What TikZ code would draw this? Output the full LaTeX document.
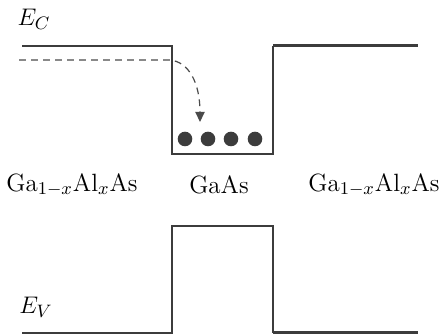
\documentclass[tikz,border=0pt]{standalone}
\usepackage{amsmath}
\usetikzlibrary{arrows.meta,positioning}
\definecolor{ink}{HTML}{3C3C3C}
\definecolor{trail}{HTML}{4A4A4A}
\tikzset{bandedge/.style={draw=ink,line width=1pt},bandthick/.style={draw=ink,line width=1.5pt},
hotpath/.style={draw=trail,line width=.6pt,dash pattern=on 3.4pt off 2.6pt,-{Triangle[length=5pt,width=4.6pt]}},
carrier/.style={fill=ink},
matlabel/.style={font=\fontsize{12.5}{15}\selectfont,inner sep=1pt},
levlabel/.style={font=\fontsize{12.5}{15}\selectfont,inner sep=1pt}}

\begin{document}
\begin{tikzpicture}[x=.5pt,y=.5pt]
\useasboundingbox (0,0) rectangle (440,335);
% conduction band
\draw[bandedge] (22,289)--(172,289)--(172,181)--(273,181)--(273,289);
\draw[bandthick] (273,289)--(418,289);
\node[levlabel] (ec) at (34,316) {$E_C$};
% hot electron falling into the well
\coordinate (hot) at (19,275);\coordinate (edge) at (170,275);\coordinate (land) at (200,213);
\draw[hotpath] (hot)--(edge) .. controls (189,273) and (200,252) .. (land);
\foreach \cx in {185,208,231,255}
  \fill[carrier] (\cx,196) circle (7.3);
% materials
\node[matlabel] (barL) at (72,150) {Ga$_{1-x}$Al$_x$As};
\node[matlabel] (well) at (219,150) {GaAs};
\node[matlabel] (barR) at (374,150) {Ga$_{1-x}$Al$_x$As};
% valence band
\draw[bandedge] (22,2)--(172,2)--(172,109)--(273,109)--(273,2);
\draw[bandthick] (273,2)--(418,2);
\node[levlabel] (ev) at (36,28) {$E_V$};
\end{tikzpicture}
\end{document}
